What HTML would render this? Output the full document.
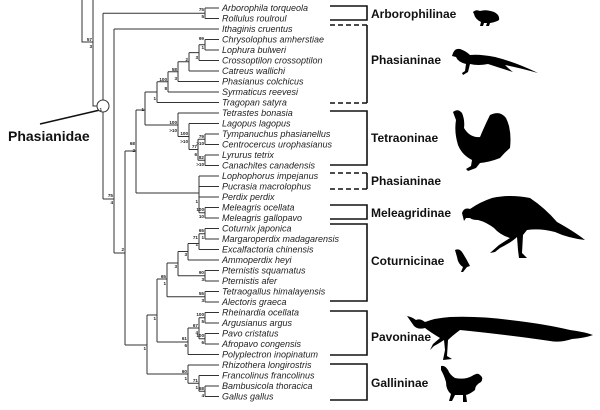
<!DOCTYPE html>
<html><head><meta charset="utf-8"><style>
html,body{margin:0;padding:0;background:#fff;}
svg{display:block;}
.t{font-family:"Liberation Sans",sans-serif;font-style:italic;font-size:9px;fill:#222;}
.b{font-family:"Liberation Sans",sans-serif;font-size:4.6px;font-weight:bold;fill:#222;}
.c{font-family:"Liberation Sans",sans-serif;font-weight:bold;font-size:12px;fill:#111;}
</style></head><body>
<svg width="600" height="410" viewBox="0 0 600 410" xmlns="http://www.w3.org/2000/svg">
<g stroke="#333" stroke-width="1" fill="none">
<path d="M82 0V42H93M93 0V106H97"/>
<path d="M103 13.25V199M103 13.25H205M205 8V18.5M103 199H114M114 29V253M114 29H219M114 253H125M125 151V345"/>
<path d="M125 151H136M136 110V193M136 110H145M145 92V125M145 92H157M157 81.8V102.5M157 81.8H168M168 71.7V92M168 71.7H178M178 61.8V81.5M178 61.8H189M189 52.6V71M189 52.6H199M199 44.75V60.5M199 44.75H205M205 39.5V50"/>
<path d="M145 125H178M178 113V136.5M178 136.5H189M189 123.5V149.5M189 149.5H198M198 139.25V160.25M198 139.25H205M198 160.25H205M205 134V144.5M205 155V165.5"/>
<path d="M136 193H199M199 176V212.75M199 212.75H205M205 207.5V218"/>
<path d="M125 345H147M147 315V374M147 315H157M157 279V342M157 279H167M167 263V296.75M167 263H178M178 251.5V275.75M178 251.5H188M188 243.5V260M188 243.5H199M199 233.75V249.5M199 233.75H205M205 228.5V239M178 275.75H205M205 270.5V281M167 296.75H205M205 291.5V302"/>
<path d="M157 342H188M188 328V354.5M188 328H199M199 317.75V338.75M199 317.75H205M199 338.75H205M205 312.5V323M205 333.5V344"/>
<path d="M147 374H188M188 365V383.25M188 383.25H199M199 375.5V391.25M199 391.25H205M205 386V396.5"/>
<path d="M205 8H219M205 18.5H219M205 39.5H219M205 50H219M199 60.5H219M189 71H219M178 81.5H219M168 92H219M157 102.5H219M178 113H219M189 123.5H219M205 134H219M205 144.5H219M205 155H219M205 165.5H219M199 176H219M199 186.5H219M199 197H219M205 207.5H219M205 218H219M205 228.5H219M205 239H219M199 249.5H219M188 260H219M205 270.5H219M205 281H219M205 291.5H219M205 302H219M205 312.5H219M205 323H219M205 333.5H219M205 344H219M188 354.5H219M188 365H219M199 375.5H219M205 386H219M205 396.5H219"/>
<path d="M40 124L100 110" stroke="#111" stroke-width="1.6"/>
</g>
<circle cx="103" cy="106" r="6" fill="#fff" stroke="#333" stroke-width="1"/>
<text x="8" y="141" font-family="Liberation Sans, sans-serif" font-weight="bold" font-size="14" fill="#111">Phasianidae</text>

<g class="b" text-anchor="end">
<text x="204" y="11">75</text><text x="204" y="18">5</text>
<text x="92" y="41">57</text><text x="92" y="48">3</text>
<text x="102" y="111">1</text>
<text x="113" y="197">75</text><text x="113" y="204">4</text>
<text x="124" y="251">2</text>
<text x="135" y="145">68</text><text x="135" y="152">2</text>
<text x="144" y="111">1</text>
<text x="156" y="100">1</text>
<text x="167" y="81">100</text><text x="167" y="90">8</text>
<text x="177" y="71">58</text><text x="177" y="80">3</text>
<text x="188" y="61">2</text>
<text x="198" y="59">3</text>
<text x="204" y="40">99</text><text x="204" y="49">1</text>
<text x="177" y="124">100</text><text x="177" y="132">&gt;10</text>
<text x="188" y="135">100</text><text x="188" y="143">&gt;10</text>
<text x="197" y="148">77</text><text x="197" y="156">6</text>
<text x="204" y="138">79</text><text x="204" y="145">&gt;10</text>
<text x="204" y="159">82</text><text x="204" y="166">&gt;10</text>
<text x="198" y="203">1</text>
<text x="204" y="211">100</text><text x="204" y="218">10</text>
<text x="146" y="350">1</text>
<text x="156" y="320">1</text>
<text x="166" y="278">65</text><text x="166" y="285">1</text>
<text x="177" y="268">3</text>
<text x="187" y="256">3</text>
<text x="198" y="239">71</text><text x="198" y="246">1</text>
<text x="204" y="232">65</text><text x="204" y="239">1</text>
<text x="204" y="274">90</text><text x="204" y="281">3</text>
<text x="204" y="295">55</text><text x="204" y="302">3</text>
<text x="187" y="340">61</text><text x="187" y="347">6</text>
<text x="198" y="327">67</text><text x="198" y="334">4</text>
<text x="204" y="316">100</text><text x="204" y="323">5</text>
<text x="204" y="337">100</text><text x="204" y="344">6</text>
<text x="187" y="373">60</text><text x="187" y="380">1</text>
<text x="198" y="382">71</text><text x="198" y="389">1</text>
<text x="204" y="390">68</text><text x="204" y="397">4</text>
</g>

<g class="t">
<text x="222" y="11">Arborophila torqueola</text>
<text x="222" y="21.5">Rollulus roulroul</text>
<text x="222" y="32">Ithaginis cruentus</text>
<text x="222" y="42.5">Chrysolophus amherstiae</text>
<text x="222" y="53">Lophura bulweri</text>
<text x="222" y="63.5">Crossoptilon crossoptilon</text>
<text x="222" y="74">Catreus wallichi</text>
<text x="222" y="84.5">Phasianus colchicus</text>
<text x="222" y="95">Syrmaticus reevesi</text>
<text x="222" y="105.5">Tragopan satyra</text>
<text x="222" y="116">Tetrastes bonasia</text>
<text x="222" y="126.5">Lagopus lagopus</text>
<text x="222" y="137">Tympanuchus phasianellus</text>
<text x="222" y="147.5">Centrocercus urophasianus</text>
<text x="222" y="158">Lyrurus tetrix</text>
<text x="222" y="168.5">Canachites canadensis</text>
<text x="222" y="179">Lophophorus impejanus</text>
<text x="222" y="189.5">Pucrasia macrolophus</text>
<text x="222" y="200">Perdix perdix</text>
<text x="222" y="210.5">Meleagris ocellata</text>
<text x="222" y="221">Meleagris gallopavo</text>
<text x="222" y="231.5">Coturnix japonica</text>
<text x="222" y="242">Margaroperdix madagarensis</text>
<text x="222" y="252.5">Excalfactoria chinensis</text>
<text x="222" y="263">Ammoperdix heyi</text>
<text x="222" y="273.5">Pternistis squamatus</text>
<text x="222" y="284">Pternistis afer</text>
<text x="222" y="294.5">Tetraogallus himalayensis</text>
<text x="222" y="305">Alectoris graeca</text>
<text x="222" y="315.5">Rheinardia ocellata</text>
<text x="222" y="326">Argusianus argus</text>
<text x="222" y="336.5">Pavo cristatus</text>
<text x="222" y="347">Afropavo congensis</text>
<text x="222" y="357.5">Polyplectron inopinatum</text>
<text x="222" y="368">Rhizothera longirostris</text>
<text x="222" y="378.5">Francolinus francolinus</text>
<text x="222" y="389">Bambusicola thoracica</text>
<text x="222" y="399.5">Gallus gallus</text>
</g>

<g stroke="#111" stroke-width="1.6" fill="none">
<path d="M330 6H367V20H330"/>
<path d="M367 25V103"/><path d="M330 25H367M330 103H367" stroke-dasharray="5,3"/>
<path d="M330 111H367V165H330"/>
<path d="M367 173V189"/><path d="M330 173H367M330 189H367" stroke-dasharray="5,3"/>
<path d="M330 205H367V219H330"/>
<path d="M330 224H367V301H330"/>
<path d="M330 311H367V355H330"/>
<path d="M330 364H367V400H330"/>
</g>
<g class="c">
<text x="371" y="18">Arborophilinae</text>
<text x="371" y="64">Phasianinae</text>
<text x="371" y="142">Tetraoninae</text>
<text x="371" y="185">Phasianinae</text>
<text x="371" y="217">Meleagridinae</text>
<text x="371" y="265">Coturnicinae</text>
<text x="371" y="341">Pavoninae</text>
<text x="371" y="387">Gallininae</text>
</g>

<g fill="#000">
<path d="M473 12Q476 9 480 11Q486 9 494 12Q500 15 499 20Q496 22 490 23L489 26H486L487 23L484 23L483 26H480L481 22Q475 19 474 14Z"/>
<path d="M453 53Q455 48 460 49Q466 51 470 55Q480 54 495 57Q515 62 538 73Q520 68 505 65Q510 70 513 72Q500 68 488 64Q478 66 470 64L468 72L463 75L462 73L465 71L466 64Q458 62 456 57L452 56Z"/>
<path d="M453 112Q458 108 462 113Q465 120 464 128Q470 138 480 137Q485 125 490 115Q500 110 506 118Q512 130 510 148Q505 152 500 158Q490 162 480 163L476 168L468 171L466 169L471 166L472 160Q462 155 458 145Q454 132 456 120Z"/>
<path d="M462 213Q464 207 470 209Q480 202 492 198Q510 194 530 198Q545 208 557 222Q575 232 585 240Q568 238 555 232Q540 228 527 230L523 235L522 253L527 258L519 258L518 250L517 237Q512 242 500 248L495 252L490 253L499 245L510 238Q500 235 494 228Q486 222 478 220Q472 220 470 218L466 218L464 221Z"/>
<path d="M455 250Q459 248 462 252Q466 258 470 266L467 267L463 272L461 272L463 267Q458 264 457 257Z"/>
<path d="M407 316Q412 317 416 320Q420 318 425 322Q435 318 450 317Q480 316 510 320Q545 324 570 330Q585 332 593 335Q585 338 572 339Q560 343 550 341Q530 338 505 335Q480 332 460 330Q452 336 448 340L447 356L452 359L443 360L445 350L444 340Q438 344 434 346L430 350L433 344L440 338Q430 332 425 328Q418 330 414 326Z"/>
<path d="M441 366Q445 365 448 370Q450 375 455 378Q465 380 472 376Q478 372 480 375Q484 378 481 382Q475 385 475 390Q470 394 466 395L467 402L463 402L463 395L455 395L452 401L449 401L451 394Q446 390 446 382Q444 375 441 370Z"/>
</g>
</svg>
</body></html>
